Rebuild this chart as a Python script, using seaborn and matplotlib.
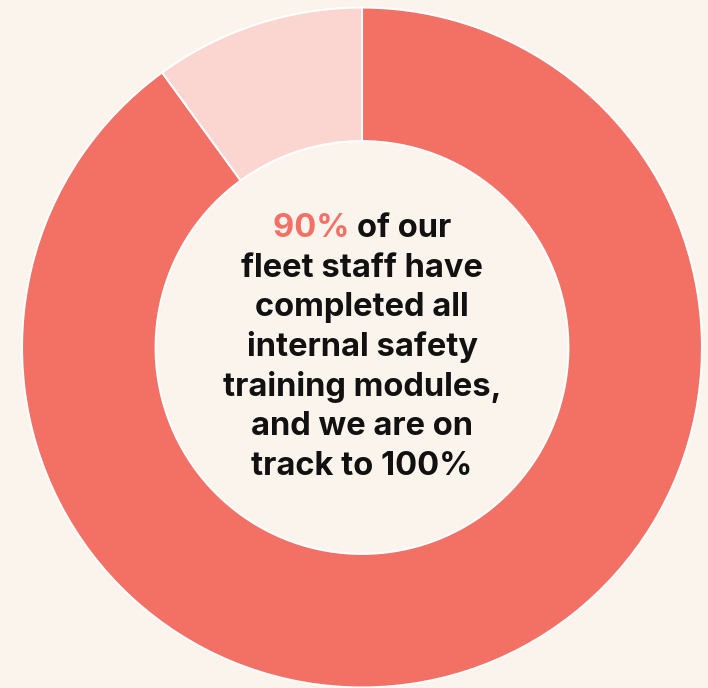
import matplotlib
matplotlib.use("Agg")
import matplotlib.pyplot as plt
import seaborn as sns

# data
labels = ["Completed", "Remaining"]
shares = [90, 10]
colors = ["#F37065", "#FBD5D0"]
highlight = "90%"
text_lines = [
    "of our",
    "fleet staff have",
    "completed all",
    "internal safety",
    "training modules,",
    "and we are on",
    "track to 100%",
]

BG = "#FBF4EC"
W, H = 708, 688
CX, CY, R = 362, 347.5, 340

sns.set_theme(style="white")
plt.rcParams["font.family"] = ["Inter", "DejaVu Sans"]

fig = plt.figure(figsize=(W / 100, H / 100), dpi=100, facecolor=BG)
ax = fig.add_axes([0, 0, 1, 1])
ax.set_facecolor(BG)

ax.pie(shares, colors=colors, startangle=90, counterclock=False,
       radius=1, wedgeprops=dict(width=0.393, edgecolor="white", linewidth=1.5))
ax.set_xlim(-CX / R, (W - CX) / R)
ax.set_ylim(-(H - CY) / R, CY / R)
ax.set_aspect("auto")
ax.axis("off")

fs = 23.5
line_h = 39.7 / R
y0 = 3 * line_h
renderer = fig.canvas.get_renderer()

# first line with coloured percentage
t1 = ax.text(0, 0, highlight + " ", fontsize=fs, fontweight="bold", color=colors[0])
t2 = ax.text(0, 0, text_lines[0], fontsize=fs, fontweight="bold", color="#111111")
w1 = t1.get_window_extent(renderer).width / R
w2 = t2.get_window_extent(renderer).width / R
left = -(w1 + w2) / 2
t1.set_position((left, y0)); t1.set_va("center"); t1.set_ha("left")
t2.set_position((left + w1, y0)); t2.set_va("center"); t2.set_ha("left")

for i, line in enumerate(text_lines[1:], start=1):
    ax.text(0, y0 - i * line_h, line, fontsize=fs, fontweight="bold",
            color="#111111", ha="center", va="center")

fig.savefig("out.png", dpi=100, facecolor=BG)
